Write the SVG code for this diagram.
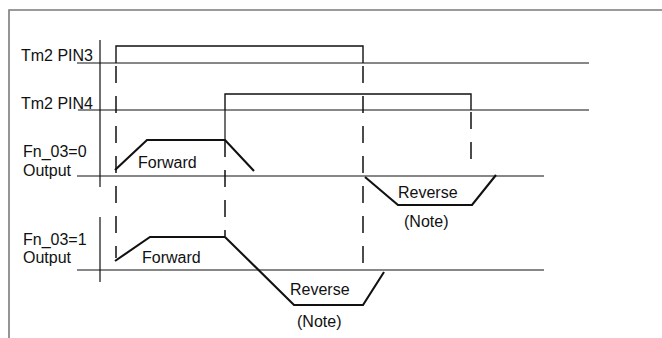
<svg xmlns="http://www.w3.org/2000/svg" width="662" height="338" viewBox="0 0 662 338">
  <style>
    .frame { fill: none; stroke: #7a7a7a; stroke-width: 1.6; }
    .thin { fill: none; stroke: #111; stroke-width: 1.2; }
    .sig { fill: none; stroke: #111; stroke-width: 1.4; }
    .ramp { fill: none; stroke: #111; stroke-width: 2.1; stroke-linejoin: miter; }
    .dash { fill: none; stroke: #111; stroke-width: 1.5; stroke-dasharray: 17 13; }
    text { font-family: "Liberation Sans", Arial, sans-serif; font-size: 16px; fill: #111; }
  </style>

  <!-- outer frame (top and left edges only) -->
  <path class="frame" d="M9,338 V10 H662"/>

  <g id="connectors">
    <!-- vertical axis -->
    <path class="thin" d="M100,40 V187 M100,217 V282"/>
    <!-- time-alignment markers -->
    <path class="dash" d="M116,66 V258"/>
    <path class="dash" d="M225,140 V236"/>
    <path class="thin" d="M225,110 V140"/>
    <path class="dash" d="M363,66 V266"/>
    <path class="dash" d="M471,112 V170"/>
  </g>

  <g id="pin3">
    <text x="21" y="61">Tm2 PIN3</text>
    <path class="thin" d="M77,63 H589"/>
    <path class="sig" d="M116,63 V46 H363 V63"/>
  </g>

  <g id="pin4">
    <text x="21" y="109">Tm2 PIN4</text>
    <path class="thin" d="M78,110 H589"/>
    <path class="sig" d="M225,110 V94 H471 V110"/>
  </g>

  <g id="fn03-0">
    <text x="23" y="157">Fn_03=0</text>
    <text x="23" y="176">Output</text>
    <path class="thin" d="M77,176 H544"/>
    <path class="ramp" d="M115,170 L147,140 H225 L254,171"/>
    <text x="138" y="168">Forward</text>
    <path class="ramp" d="M365,177 L398,205 H472 L496,175"/>
    <text x="398" y="198">Reverse</text>
    <text x="404" y="227">(Note)</text>
  </g>

  <g id="fn03-1">
    <text x="23" y="245">Fn_03=1</text>
    <text x="23" y="263">Output</text>
    <path class="thin" d="M77,270 H544"/>
    <path class="ramp" d="M115,261 L150,237 H225 L294,305 H363 L384,272"/>
    <text x="142" y="263">Forward</text>
    <text x="290" y="295">Reverse</text>
    <text x="297" y="327">(Note)</text>
  </g>
</svg>
